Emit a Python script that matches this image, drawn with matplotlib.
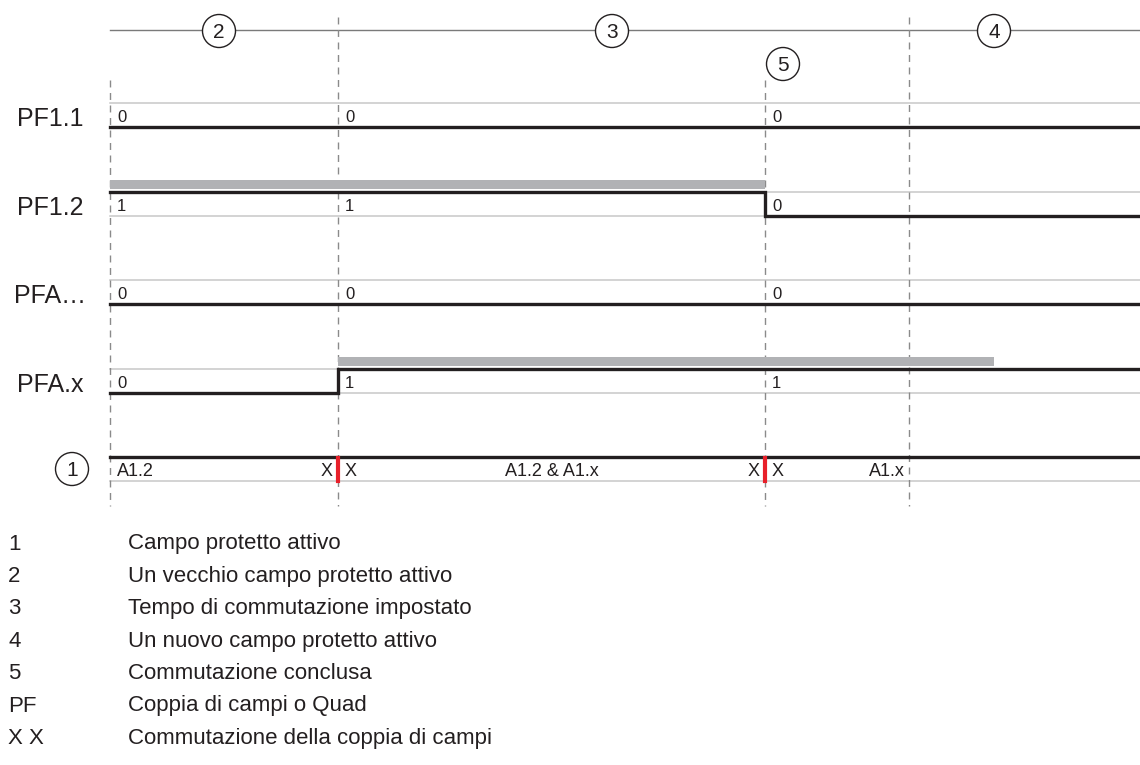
import matplotlib

matplotlib.use("Agg")
import matplotlib.pyplot as plt
from matplotlib.patches import Circle, Rectangle

plt.rcParams["font.family"] = ["Liberation Sans", "DejaVu Sans"]

# time axis: 0 = start of the diagram, values in diagram units
T_END = 1030
phase_times = [0, 228, 655, 799]          # vertical dashed markers
switch_times = [228, 655]                 # X | X pair switches
phase_labels = ["2", "3", "4"]
phase_label_times = [109, 502, 884]
done_label = "5"

signal_names = ["PF1.1", "PF1.2", "PFA…", "PFA.x"]
signal_step_times = [[0], [0, 655], [0], [0, 228]]
signal_step_levels = [[0], [1, 0], [0], [0, 1]]
value_label_times = [0, 228, 655]
value_labels = [["0", "0", "0"], ["1", "1", "0"], ["0", "0", "0"], ["0", "1", "1"]]
request_bars = [(1, 0, 655), (3, 228, 884)]   # (row, start, end)

active_texts = ["A1.2", "A1.2 & A1.x", "A1.x"]

legend_keys = ["1", "2", "3", "4", "5", "PF", "X X"]
legend_texts = [
    "Campo protetto attivo",
    "Un vecchio campo protetto attivo",
    "Tempo di commutazione impostato",
    "Un nuovo campo protetto attivo",
    "Commutazione conclusa",
    "Coppia di campi o Quad",
    "Commutazione della coppia di campi",
]

X0 = 110
ROW_TOP = 103
ROW_STEP = 88.5
ROW_H = 24
BLACK = "#231f20"
THIN = "#c8c8c8"
DASH = "#8a8a8a"


def _row_high(i):
    return ROW_TOP + ROW_STEP * i


def _circled(ax, x, y, label, r=16.5, size=15):
    ax.add_patch(Circle((x, y), r, facecolor="white", edgecolor=BLACK, lw=1.0, zorder=5))
    ax.text(x, y + 1, label, ha="center", va="center", fontsize=size, color=BLACK, zorder=6)


fig = plt.figure(figsize=(11.4, 7.65), dpi=100)
ax = fig.add_axes([0, 0, 1, 1])
ax.set_xlim(-X0, 1140 - X0)
ax.set_ylim(765, 0)
ax.axis("off")

# top phase line
ax.plot([0, T_END], [30, 30], color="#7a7a7a", lw=1.0, zorder=1)
for label, t in zip(phase_labels, phase_label_times):
    _circled(ax, t, 31, label)
_circled(ax, switch_times[1] + 18, 64, done_label)

# vertical dashed markers
dash_tops = [80, 17, 80, 17]
for t, top in zip(phase_times, dash_tops):
    ax.plot([t, t], [top, 506], color=DASH, lw=1.0, ls=(0, (5, 4)), zorder=2)

# signal rows
for i, name in enumerate(signal_names):
    hi = _row_high(i)
    lo = hi + ROW_H
    ax.plot([0, T_END], [hi, hi], color=THIN, lw=1.1, zorder=1)
    ax.plot([0, T_END], [lo, lo], color=THIN, lw=1.1, zorder=1)
    ax.text(-60, hi + 16, name, ha="center", va="center", fontsize=18, color=BLACK)
    times = list(signal_step_times[i]) + [T_END]
    levels = list(signal_step_levels[i])
    xs, ys = [], []
    for k, lev in enumerate(levels):
        y = hi if lev == 1 else lo
        xs += [times[k], times[k + 1]]
        ys += [y, y]
    ax.plot(xs, ys, color=BLACK, lw=2.4, solid_joinstyle="miter", zorder=4)
    for t, v in zip(value_label_times, value_labels[i]):
        ax.text(t + 7, hi + 14.5, v, ha="left", va="center", fontsize=12, color=BLACK, zorder=5)

for row, start, end in request_bars:
    hi = _row_high(row)
    ax.add_patch(Rectangle((start, hi - 11.5), end - start, 9, facecolor="#b1b2b5",
                           edgecolor="none", zorder=3))

# active protected field row
hi = _row_high(4)
lo = hi + ROW_H
ax.plot([0, T_END], [hi, hi], color=BLACK, lw=2.4, zorder=4)
ax.plot([0, T_END], [lo, lo], color=THIN, lw=1.1, zorder=1)
_circled(ax, -38, hi + 12, "1")
for t in switch_times:
    ax.plot([t, t], [hi + 1, lo], color="#e8202a", lw=3.0, zorder=5)
    ax.text(t - 5, hi + 14.5, "X", ha="right", va="center", fontsize=13, color=BLACK)
    ax.text(t + 7, hi + 14.5, "X", ha="left", va="center", fontsize=13, color=BLACK)
ax.text(7, hi + 14.5, active_texts[0], ha="left", va="center", fontsize=13, color=BLACK)
ax.text((switch_times[0] + switch_times[1]) / 2, hi + 14.5, active_texts[1],
        ha="center", va="center", fontsize=13, color=BLACK)
ax.text(phase_times[3] - 4, hi + 14.5, active_texts[2], ha="right", va="center",
        fontsize=13, color=BLACK)

# key
for k, (key, txt) in enumerate(zip(legend_keys, legend_texts)):
    y = 544 + 32.4 * k
    ax.text(-102, y, key, ha="left", va="center", fontsize=16, color=BLACK)
    ax.text(18, y, txt, ha="left", va="center", fontsize=16, color=BLACK)

fig.savefig("out.png", dpi=100)
